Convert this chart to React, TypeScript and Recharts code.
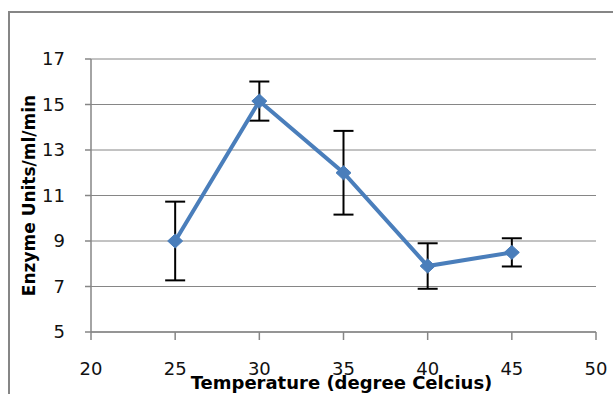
import React from 'react';
import { LineChart, Line, XAxis, YAxis, CartesianGrid, ErrorBar, Label } from 'recharts';

const temperatures = [25, 30, 35, 40, 45];
const enzymeUnits = [9.0, 15.15, 12.0, 7.9, 8.5];
const errors = [1.73, 0.86, 1.84, 1.0, 0.62];
const xTicks = [20, 25, 30, 35, 40, 45, 50];
const yTicks = [5, 7, 9, 11, 13, 15, 17];

const data = temperatures.map((t, i) => ({ t, v: enzymeUnits[i], err: errors[i] }));

const BLUE = '#4a7ebb';
const GRID = '#868686';
const FONT = 'DejaVu Sans';

const Diamond = (props: any) => {
  const { cx, cy } = props;
  if (cx == null || cy == null) return null;
  const w = 7.5;
  const h = 7;
  return (
    <path
      d={`M${cx},${cy - h} L${cx + w},${cy} L${cx},${cy + h} L${cx - w},${cy} Z`}
      fill={BLUE}
      stroke={BLUE}
      strokeWidth={1}
    />
  );
};

const YLabel = (props: any) => {
  const vb = props.viewBox || {};
  const x = (vb.x ?? 0) + 21;
  const y = (vb.y ?? 0) + (vb.height ?? 0) / 2;
  return (
    <text
      x={x}
      y={y}
      transform={`rotate(-90, ${x}, ${y})`}
      textAnchor="middle"
      dominantBaseline="central"
      fontFamily={FONT}
      fontWeight="bold"
      fontSize={17}
      fill="#000"
    >
      Enzyme Units/ml/min
    </text>
  );
};

const XLabel = (props: any) => {
  const vb = props.viewBox || {};
  const x = (vb.x ?? 0) + (vb.width ?? 0) / 2 - 2;
  const y = (vb.y ?? 0) + 57;
  return (
    <text
      x={x}
      y={y}
      textAnchor="middle"
      fontFamily={FONT}
      fontWeight="bold"
      fontSize={18}
      fill="#000"
    >
      Temperature (degree Celcius)
    </text>
  );
};

export default function App() {
  return (
    <div style={{ position: 'relative', width: 613, height: 394, overflow: 'hidden', background: '#fff', margin: 0 }}>
      <style>{'body{margin:0}'}</style>
      <div style={{ position: 'absolute', left: 8, top: 8, width: 640, height: 420 }}>
        <div
          style={{
            position: 'absolute',
            left: 0,
            top: 3,
            width: 800,
            height: 600,
            borderLeft: `2px solid ${GRID}`,
            borderTop: `2px solid ${GRID}`,
            boxSizing: 'border-box',
          }}
        />
        <div style={{ position: 'absolute', left: 0, top: 0 }}>
          <LineChart
            width={630}
            height={386}
            data={data}
            margin={{ top: 51, right: 42, left: 0, bottom: 0 }}
          >
            <CartesianGrid vertical={false} stroke={GRID} strokeWidth={1} />
            <XAxis
              dataKey="t"
              type="number"
              domain={[20, 50]}
              ticks={xTicks}
              interval={0}
              height={62}
              stroke={GRID}
              strokeWidth={1.5}
              tickSize={8}
              tickMargin={22}
              tick={{ fill: '#111', fontFamily: FONT, fontSize: 18 }}
              allowDataOverflow
            >
              <Label content={<XLabel />} />
            </XAxis>
            <YAxis
              type="number"
              domain={[5, 17]}
              ticks={yTicks}
              interval={0}
              width={83}
              stroke={GRID}
              strokeWidth={1.5}
              tickSize={6}
              tickMargin={20}
              tick={{ fill: '#111', fontFamily: FONT, fontSize: 18 }}
              allowDataOverflow
            >
              <Label content={<YLabel />} />
            </YAxis>
            <Line
              dataKey="v"
              stroke={BLUE}
              strokeWidth={4}
              dot={<Diamond />}
              activeDot={false}
              isAnimationActive={false}
            >
              <ErrorBar dataKey="err" direction="y" width={10} stroke="#000" strokeWidth={2} />
            </Line>
          </LineChart>
        </div>
      </div>
    </div>
  );
}
